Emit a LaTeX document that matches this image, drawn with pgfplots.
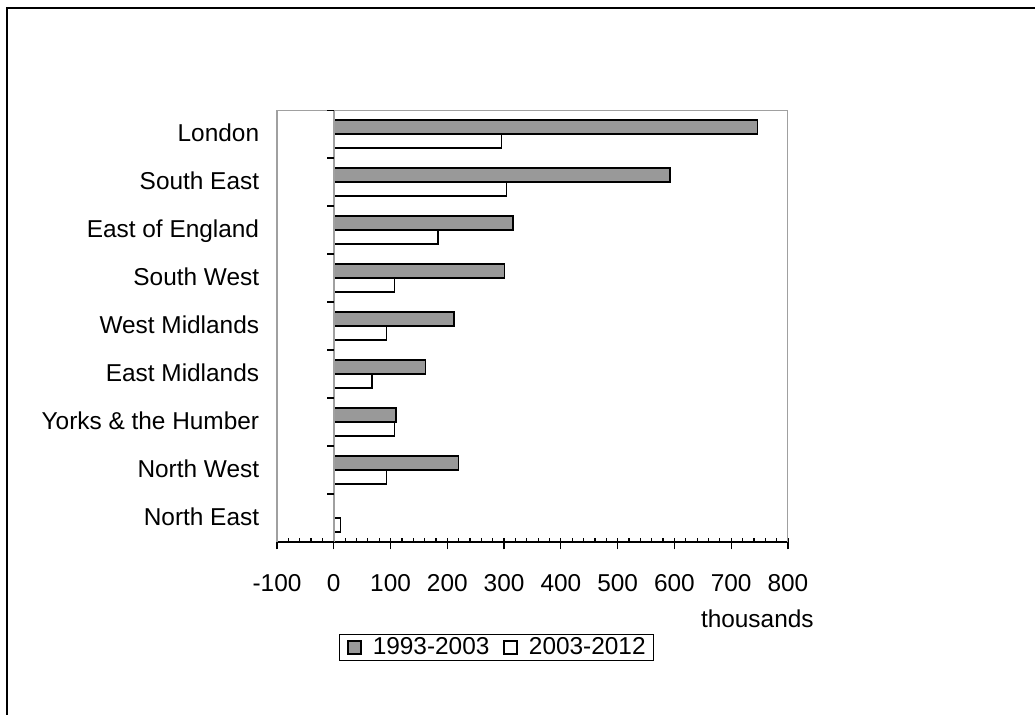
\documentclass[border=0pt]{standalone}
\usepackage{fontspec}
\setmainfont{Liberation Sans}
\usepackage{pgfplots}
\usepackage{pgfplotstable}
\pgfplotsset{compat=1.18}

\definecolor{barGray}{RGB}{153,153,153}
\definecolor{frameGray}{RGB}{160,160,160}

% Net change by region, thousands (0 = North East ... 8 = London)
\pgfplotstableread{
pos early late
0   0     12
1   220   93
2   110   107
3   162   67
4   212   93
5   301   107
6   316   184
7   592   304
8   746   295
}\regiondata

\begin{document}
\begin{tikzpicture}
\path[use as bounding box] (-138.5pt,-86.5pt) rectangle (379pt,271pt);
\draw[line width=0.9pt] (-135pt,-86.5pt) -- (-135pt,267pt) -- (379pt,267pt);
\begin{axis}[
  at={(0pt,0pt)}, anchor=south west,
  scale only axis, width=255.5pt, height=216pt,
  xmin=-100, xmax=800, ymin=-0.5, ymax=8.5,
  xbar, bar width=7pt,
  font=\fontsize{12.2}{14}\selectfont,
  axis x line*=bottom, axis y line*=left,
  x axis line style={-, draw=black, line width=0.75pt},
  y axis line style={-, draw=frameGray, line width=0.75pt},
  xtick={-100,0,100,200,300,400,500,600,700,800},
  xticklabels={-100,0,100,200,300,400,500,600,700,800},
  minor x tick num=4,
  xtick align=center,
  xtick style={black, line width=0.6pt},
  major tick length=5.75pt, minor tick length=2pt,
  major x tick style={yshift=-0.875pt},
  minor x tick style={yshift=1pt},
  xticklabel style={anchor=base, inner sep=0pt, yshift=-22pt},
  ytick={0,...,8},
  yticklabels={North East, North West, Yorks \& the Humber, East Midlands,
    West Midlands, South West, East of England, South East, London},
  ytick style={draw=none},
  yticklabel style={anchor=base east, inner sep=0pt, xshift=-3pt, yshift=-3.85pt},
  xlabel={thousands},
  xlabel style={at={(axis description cs:0.94,0)}, anchor=base, inner sep=0pt, yshift=-43pt},
  legend image code/.code={\draw[#1] (0pt,-3.25pt) rectangle (6.5pt,3.25pt);},
  legend columns=2,
  legend style={at={(axis description cs:0.4295,0)}, anchor=center, yshift=-52.75pt,
    draw=black, line width=0.5pt, inner xsep=4pt, inner ysep=1.5pt,
    nodes={inner sep=0pt}, font=\fontsize{12.2}{14}\selectfont,
    /tikz/every odd column/.append style={column sep=5.5pt},
    /tikz/every even column/.append style={column sep=7pt}},
]
\addplot[fill=barGray, draw=black, line width=0.75pt, bar shift=3.5pt]
  table[x=early, y=pos] {\regiondata};
\addplot[fill=white, draw=black, line width=0.75pt, bar shift=-3.5pt]
  table[x=late, y=pos] {\regiondata};
\legend{1993-2003, 2003-2012}
% plot-area frame on top and right
\draw[frameGray, line width=0.75pt] (rel axis cs:0,1) -- (rel axis cs:1,1) -- (rel axis cs:1,0);
% value axis at zero with category separators
\draw[frameGray, line width=0.75pt] (axis cs:0,-0.5) -- (axis cs:0,8.5);
\pgfplotsinvokeforeach{-0.5,0.5,...,8.5}{
  \draw[black, line width=0.6pt] (axis cs:0,#1) -- ++(-3.5pt,0pt);
}
\end{axis}
\end{tikzpicture}
\end{document}
